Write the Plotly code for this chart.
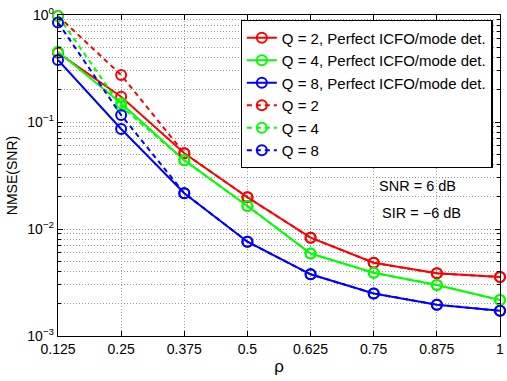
import plotly.graph_objects as go

rho = [0.125, 0.25, 0.375, 0.5, 0.625, 0.75, 0.875, 1.0]
x_ticklabels = ["0.125", "0.25", "0.375", "0.5", "0.625", "0.75", "0.875", "1"]

q2_perfect = [0.444, 0.172, 0.051, 0.0198, 0.0083, 0.00484, 0.00385, 0.00356]
q4_perfect = [0.454, 0.150, 0.044, 0.0164, 0.0059, 0.0039, 0.0030, 0.00217]
q8_perfect = [0.380, 0.086, 0.0216, 0.0076, 0.00377, 0.0025, 0.00196, 0.00172]
q2_est = [0.98, 0.275, 0.051, 0.0198, 0.0083, 0.00484, 0.00385, 0.00356]
q4_est = [0.98, 0.140, 0.044, 0.0164, 0.0059, 0.0039, 0.0030, 0.00217]
q8_est = [0.85, 0.116, 0.0216, 0.0076, 0.00377, 0.0025, 0.00196, 0.00172]

series = [
    ("Q = 2, Perfect ICFO/mode det.", q2_perfect, "#ff0000", "solid"),
    ("Q = 4, Perfect ICFO/mode det.", q4_perfect, "#00ff00", "solid"),
    ("Q = 8, Perfect ICFO/mode det.", q8_perfect, "#0000ff", "solid"),
    ("Q = 2", q2_est, "#ff0000", "5px,4px"),
    ("Q = 4", q4_est, "#00ff00", "5px,4px"),
    ("Q = 8", q8_est, "#0000ff", "5px,4px"),
]

fig = go.Figure()
for name, vals, color, dash in series:
    fig.add_trace(go.Scatter(
        x=rho, y=vals, name=name, mode="lines+markers",
        line=dict(color=color, width=2, dash=dash),
        marker=dict(symbol="circle-open", size=10, color=color, line=dict(width=2, color=color)),
        cliponaxis=False,
    ))

font = "Liberation Sans, Arial, Helvetica, sans-serif"
minor_vals = [m * 10 ** e for e in (-3, -2, -1) for m in range(2, 10)]
grid_dash = "1px,2px"
grid_col = "#999999"

fig.update_layout(
    width=507, height=381,
    margin=dict(l=57.5, r=3, t=15, b=45),
    paper_bgcolor="white", plot_bgcolor="white",
    font=dict(family=font, size=13, color="black"),
    showlegend=True,
    legend=dict(
        x=0.413, y=0.984, xanchor="left", yanchor="top",
        bgcolor="white", bordercolor="black", borderwidth=1.3,
        font=dict(size=15, family=font), itemwidth=30, tracegroupgap=0,
    ),
    xaxis=dict(
        range=[0.125, 1.0], tickvals=rho, ticktext=x_ticklabels,
        showgrid=True, gridcolor=grid_col, griddash=grid_dash, gridwidth=1,
        showline=True, linecolor="black", linewidth=1.3, mirror="ticks",
        ticks="inside", ticklen=5, tickcolor="black", zeroline=False,
        ticklabeloverflow="allow",
        title=dict(text="ρ", font=dict(size=17), standoff=4),
        tickfont=dict(size=14),
    ),
    yaxis=dict(
        type="log", range=[-3, 0],
        tickvals=[1e-3, 1e-2, 1e-1, 1],
        ticktext=["10<sup>−3</sup>", "10<sup>−2</sup>", "10<sup>−1</sup>", "10<sup>0</sup>"],
        showgrid=True, gridcolor=grid_col, griddash=grid_dash, gridwidth=1,
        showline=True, linecolor="black", linewidth=1.3, mirror="ticks",
        ticks="inside", ticklen=5, tickcolor="black", zeroline=False,
        ticklabeloverflow="allow",
        minor=dict(tickvals=minor_vals, showgrid=True, gridcolor=grid_col, griddash=grid_dash,
                   ticks="inside", ticklen=3, tickcolor="black"),
        title=dict(text="NMSE(SNR)", font=dict(size=14), standoff=6),
        tickfont=dict(size=14),
    ),
    annotations=[
        dict(text="SNR = 6 dB", x=0.757, y=-1.6, xref="x", yref="y",
             xanchor="left", yanchor="middle", showarrow=False, font=dict(size=14.5)),
        dict(text="SIR = −6 dB", x=0.763, y=-1.855, xref="x", yref="y",
             xanchor="left", yanchor="middle", showarrow=False, font=dict(size=14.5)),
    ],
)

fig.write_html("out.html")
